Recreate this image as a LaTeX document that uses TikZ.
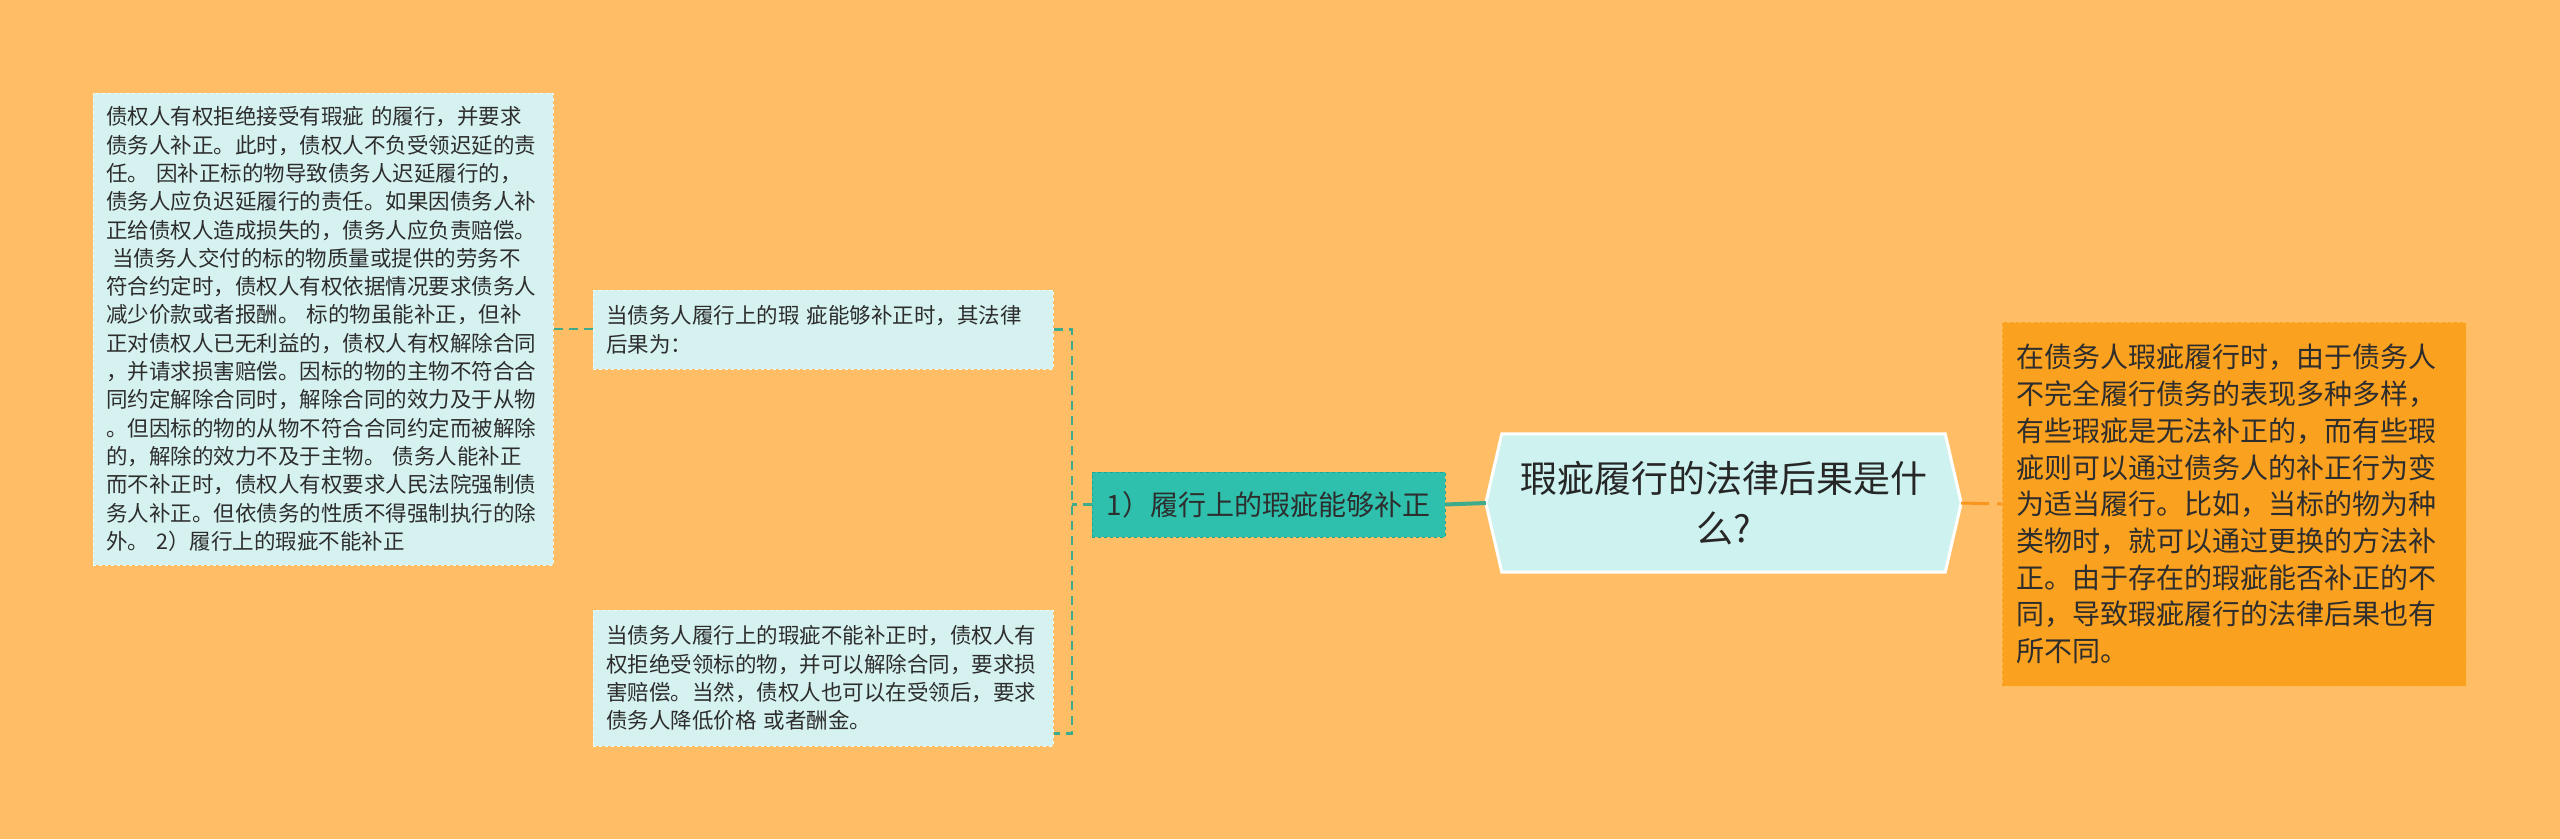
\documentclass[tikz,border=0pt]{standalone}
\usepackage{fontspec}
\setmainfont{Noto Sans CJK SC}
\definecolor{bgorange}{RGB}{255,190,102}
\definecolor{leafcyan}{RGB}{214,242,240}
\definecolor{leafedge}{RGB}{236,250,248}
\definecolor{branchteal}{RGB}{46,192,172}
\definecolor{branchedge}{RGB}{30,165,145}
\definecolor{linkteal}{RGB}{62,172,140}
\definecolor{rootcyan}{RGB}{206,242,240}
\definecolor{noteorange}{RGB}{250,161,32}
\definecolor{noteedge}{RGB}{255,186,80}
\definecolor{linkorange}{RGB}{248,150,30}
\definecolor{inkgrey}{RGB}{45,45,45}
\begin{document}
\begin{tikzpicture}[x=1pt,y=-1pt,
        leaf/.style={fill=leafcyan, draw=leafedge, dashed, line width=1pt, text=inkgrey,
            align=left, inner xsep=13pt, inner ysep=0pt, text width=434pt,
            minimum width=460pt, font=\fontsize{21.5}{28.3}\selectfont},
        branch/.style={fill=branchteal, draw=branchedge, dashed, line width=1pt, text=inkgrey,
            minimum width=353pt, minimum height=65pt, font=\fontsize{28}{34}\selectfont},
        roottext/.style={align=center, text=black!85, minimum width=443pt, minimum height=138pt,
            font=\fontsize{37}{50}\selectfont},
        rootshape/.style={fill=rootcyan, draw=white, line width=3pt},
        note/.style={fill=noteorange, draw=noteedge, dashed, line width=1pt, text=inkgrey,
            align=left, inner xsep=14pt, text width=436pt, minimum width=464pt,
            minimum height=364pt, font=\fontsize{28}{36.7}\selectfont},
        link/.style={draw=linkteal, line width=2.5pt, dash pattern=on 9pt off 6pt},
        mainlink/.style={draw=linkteal, line width=4pt},
        sidelink/.style={draw=linkorange, line width=3pt, dash pattern=on 28pt off 8pt}]
    \useasboundingbox (0,0) rectangle (2560,839);
    \fill[bgorange] (0,0) rectangle (2560,839);

    % centre topic
    \node[roottext] (root) at (1723.5,503) {};
    \draw[rootshape] (root.north west) -- (root.north east) -- ([xshift=16pt]root.east)
        -- (root.south east) -- (root.south west) -- ([xshift=-16pt]root.west) -- cycle;
    \node[roottext] (rootlabel) at (root) {瑕疵履行的法律后果是什\\么?};

    % right note
    \node[note] (note) at (2234,504) {在债务人瑕疵履行时，由于债务人\\不完全履行债务的表现多种多样，\\有些瑕疵是无法补正的，而有些瑕\\疵则可以通过债务人的补正行为变\\为适当履行。比如，当标的物为种\\类物时，就可以通过更换的方法补\\正。由于存在的瑕疵能否补正的不\\同，导致瑕疵履行的法律后果也有\\所不同。};

    % left branch
    \node[branch] (fix) at (1268.5,504.5) {1）履行上的瑕疵能够补正};
    \node[leaf, minimum height=79pt, font=\fontsize{21.5}{29}\selectfont] (fixyes) at (823,329.5)
        {当债务人履行上的瑕 疵能够补正时，其法律\\后果为：};
    \node[leaf, minimum height=136pt] (fixno) at (823,678)
        {当债务人履行上的瑕疵不能补正时，债权人有\\权拒绝受领标的物，并可以解除合同，要求损\\害赔偿。当然，债权人也可以在受领后，要求\\债务人降低价格 或者酬金。};
    \node[leaf, minimum height=472pt] (detail) at (323,329)
        {债权人有权拒绝接受有瑕疵 的履行，并要求\\债务人补正。此时，债权人不负受领迟延的责\\任。 因补正标的物导致债务人迟延履行的，\\债务人应负迟延履行的责任。如果因债务人补\\正给债权人造成损失的，债务人应负责赔偿。\\\hspace*{0.3em}当债务人交付的标的物质量或提供的劳务不\\符合约定时，债权人有权依据情况要求债务人\\减少价款或者报酬。 标的物虽能补正，但补\\正对债权人已无利益的，债权人有权解除合同\\，并请求损害赔偿。因标的物的主物不符合合\\同约定解除合同时，解除合同的效力及于从物\\。但因标的物的从物不符合合同约定而被解除\\的，解除的效力不及于主物。 债务人能补正\\而不补正时，债权人有权要求人民法院强制债\\务人补正。但依债务的性质不得强制执行的除\\外。 2）履行上的瑕疵不能补正};

    % connectors
    \coordinate (bx) at (1072,0);
    \coordinate (noend) at ([yshift=13pt]fixno.south east);
    \draw[mainlink] (fix.east) -- ([xshift=-16pt]root.west);
    \draw[sidelink] ([xshift=16pt]root.east) -- (note.west);
    \draw[link] (fixyes.east) -- (fixyes.east -| bx) -- (bx |- noend) -- (noend);
    \draw[link] (fix.west) -- (fix.west -| bx);
    \draw[link] (detail.east) -- (detail.east -| fixyes.west);
\end{tikzpicture}
\end{document}
